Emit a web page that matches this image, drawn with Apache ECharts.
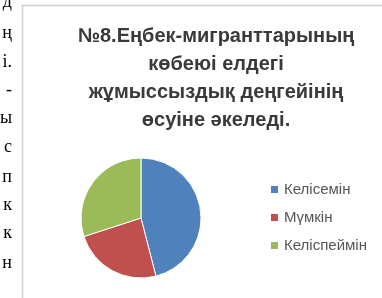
<!DOCTYPE html>
<html>
<head>
<meta charset="utf-8">
<script src="https://cdn.jsdelivr.net/npm/echarts@6/dist/echarts.min.js"></script>
<style>
  html, body { margin: 0; padding: 0; background: #fff; }
  #chart { width: 382px; height: 298px; }
</style>
</head>
<body>
<div id="chart"></div>
<script>
// мәліметтер
var titleLines = ['№8.Еңбек-мигранттарының', 'көбеюі елдегі', 'жұмыссыздық деңгейінің', 'өсуіне әкеледі.'];
var categories = ['Келісемін', 'Мүмкін', 'Келіспеймін'];
var values = [46, 24, 30];
var colors = ['#4f81bd', '#c0504d', '#9bbb59'];
// сол жақтағы мәтіннің қалдықтары
var sideLetters = ['д', 'ң', 'і.', '-', 'ы', 'с', 'п', 'к', 'к', 'н'];
var sideY = [2, 33, 62, 90, 118, 147, 177, 205, 233, 263];

var myChart = echarts.init(document.getElementById('chart'));

var pieData = categories.map(function (name, i) {
    return { name: name, value: values[i], itemStyle: { color: colors[i] } };
});

var sideText = sideLetters.map(function (ch, i) {
    return {
        type: 'text',
        x: 12,
        y: sideY[i],
        style: {
            text: ch,
            align: 'right',
            verticalAlign: 'middle',
            font: '18px "Liberation Serif"',
            fill: '#000'
        }
    };
});

var option = {
    animation: false,
    title: {
        text: titleLines.join('\n'),
        left: 211,
        top: 17,
        textAlign: 'center',
        textStyle: {
            fontFamily: 'Liberation Sans',
            fontSize: 20,
            fontWeight: 'bold',
            lineHeight: 28,
            color: '#3a3a3a'
        }
    },
    legend: {
        orient: 'vertical',
        left: 264,
        top: 177,
        icon: 'rect',
        itemWidth: 9,
        itemHeight: 9,
        itemGap: 13,
        data: categories,
        textStyle: {
            fontFamily: 'Liberation Sans',
            fontSize: 15,
            lineHeight: 15,
            color: '#555'
        }
    },
    graphic: [{
        type: 'rect',
        shape: { x: 22.5, y: 5.5, width: 400, height: 320 },
        style: { fill: '#fff', stroke: '#d0d0d0', lineWidth: 1.5 },
        z: -10
    }].concat(sideText),
    series: [{
        name: 'Жауап',
        type: 'pie',
        center: [141, 218],
        radius: 60,
        startAngle: 90,
        clockwise: true,
        label: { show: false },
        labelLine: { show: false },
        itemStyle: { borderColor: '#fff', borderWidth: 1 },
        data: pieData
    }]
};

myChart.setOption(option);
</script>
</body>
</html>
